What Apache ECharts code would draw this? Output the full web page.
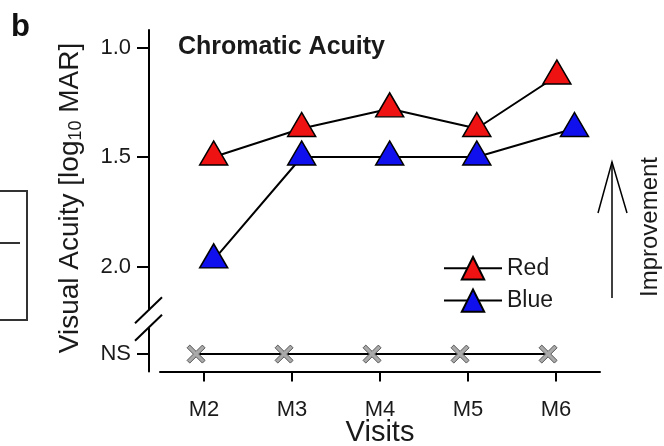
<!DOCTYPE html>
<html><head><meta charset="utf-8">
<script src="https://cdn.jsdelivr.net/npm/echarts@6/dist/echarts.min.js"></script>
<style>html,body{margin:0;padding:0;background:#fff}#c{width:664px;height:446px}</style>
</head><body><div id="c"></div>
<script>
// ---- data ----
const visits = ['M2', 'M3', 'M4', 'M5', 'M6'];
const redAcuity = [1.50, 1.37, 1.28, 1.37, 1.13];
const blueAcuity = [1.97, 1.50, 1.50, 1.50, 1.37];
const notSeen = ['NS', 'NS', 'NS', 'NS', 'NS'];
const yTicks = ['1.0', '1.5', '2.0', 'NS'];
// small horizontal dodge of each series (in visit units)
const redDodge = [0.11, 0.11, 0.11, 0.10, 0.01];
const blueDodge = [0.11, 0.11, 0.11, 0.10, 0.21];
const nsDodge = [-0.09, -0.09, -0.09, -0.09, -0.09];

const NS_VALUE = 2.4;
const BREAK = [2.2, 2.28];
const yTickValues = yTicks.map(t => t === 'NS' ? NS_VALUE : parseFloat(t));
const FONT = '"Liberation Sans", Arial, sans-serif';
const INK = '#1a1a1a';

const chart = echarts.init(document.getElementById('c'), null, {renderer: 'canvas'});

const triSeries = (name, vals, dodge, color) => ({
  name, type: 'line',
  data: vals.map((v, i) => [i + dodge[i], v]),
  symbol: 'triangle', symbolSize: [28, 24], symbolOffset: [0, -4],
  itemStyle: {color, borderColor: '#000', borderWidth: 1.5},
  lineStyle: {color: '#000', width: 2},
  z: 4
});

const option = {
  animation: false,
  title: {
    text: 'Chromatic Acuity', left: 178, top: 35, padding: 0,
    textStyle: {fontSize: 25, fontWeight: 'bold', color: INK, fontFamily: FONT}
  },
  legend: {
    data: ['Red', 'Blue'], orient: 'vertical', left: 443, top: 256,
    itemWidth: 58, itemHeight: 28, itemGap: 8, padding: 0,
    textStyle: {fontSize: 23, color: INK, fontFamily: FONT}
  },
  grid: {left: 160, right: 64, top: 30, bottom: 74.4, outerBoundsMode: 'none', containLabel: false},
  xAxis: {
    type: 'value', min: -0.5, max: 4.5,
    name: 'Visits', nameLocation: 'middle', nameGap: 46, nameMoveOverlap: false,
    nameTextStyle: {fontSize: 29, color: INK, fontFamily: FONT, verticalAlign: 'top', lineHeight: 30},
    axisLine: {onZero: false, lineStyle: {color: '#000', width: 2}},
    axisTick: {customValues: visits.map((v, i) => i), length: 10, lineStyle: {color: '#000', width: 2}},
    axisLabel: {customValues: visits.map((v, i) => i), formatter: v => visits[Math.round(v)],
      fontSize: 22, color: INK, fontFamily: FONT, margin: 27},
    splitLine: {show: false}
  },
  yAxis: {
    type: 'value', inverse: true, min: 0.92, max: 2.48, offset: 11,
    axisLine: {show: true, onZero: false, lineStyle: {color: '#000', width: 2}},
    axisTick: {show: true, customValues: yTickValues, length: 12, lineStyle: {color: '#000', width: 2}},
    axisLabel: {customValues: yTickValues,
      formatter: v => { const i = yTickValues.findIndex(t => Math.abs(t - v) < 1e-6); return i >= 0 ? yTicks[i] : ''; },
      fontSize: 22, color: INK, fontFamily: FONT, margin: 18},
    splitLine: {show: false}
  },
  series: [
    {
      name: 'NS', type: 'line',
      data: notSeen.map((v, i) => [i + nsDodge[i], v === 'NS' ? NS_VALUE : v]),
      symbol: 'path://M0,3 L3,0 L10,7 L17,0 L20,3 L13,10 L20,17 L17,20 L10,13 L3,20 L0,17 L7,10 Z',
      symbolSize: 18,
      itemStyle: {color: '#aaaaaa', borderColor: '#555', borderWidth: 1},
      lineStyle: {color: '#000', width: 2},
      z: 3
    },
    triSeries('Red', redAcuity, redDodge, '#ee1212'),
    triSeries('Blue', blueAcuity, blueDodge, '#1010ee')
  ]
};
chart.setOption(option);

// decorations: axis break, titles, arrow, panel fragment
const p1 = chart.convertToPixel({gridIndex: 0}, [-0.5, BREAK[0]]);
const p2 = chart.convertToPixel({gridIndex: 0}, [-0.5, BREAK[1]]);
const ax = p1[0] - 11;
chart.setOption({
  graphic: [
    {type: 'rect', z: 100, shape: {x: ax - 3, y: p1[1], width: 6, height: p2[1] - p1[1]}, style: {fill: '#fff'}},
    {type: 'line', z: 101, shape: {x1: ax - 14, y1: p1[1] + 13, x2: ax + 13, y2: p1[1] - 13}, style: {stroke: '#000', lineWidth: 2}},
    {type: 'line', z: 101, shape: {x1: ax - 14, y1: p2[1] + 13, x2: ax + 13, y2: p2[1] - 13}, style: {stroke: '#000', lineWidth: 2}},
    {type: 'text', z: 100, x: 70, y: 198, rotation: Math.PI / 2,
      style: {text: '{a|Visual Acuity [log}{s|10}{a| MAR]}', align: 'center', verticalAlign: 'middle',
        rich: {a: {fontSize: 28, fontFamily: FONT, fill: INK, lineHeight: 30},
               s: {fontSize: 18, fontFamily: FONT, fill: INK, verticalAlign: 'bottom'}}}},
    {type: 'text', z: 100, x: 650, y: 227, rotation: Math.PI / 2,
      style: {text: 'Improvement', align: 'center', verticalAlign: 'middle', fontSize: 24, fontFamily: FONT, fill: INK}},
    {type: 'line', z: 100, shape: {x1: 612, y1: 298, x2: 612, y2: 162}, style: {stroke: '#000', lineWidth: 1.5}},
    {type: 'polyline', z: 100, shape: {points: [[598, 213], [612, 162], [627, 213]]}, style: {stroke: '#000', lineWidth: 1.5, fill: null}},
    {type: 'text', z: 100, x: 11, y: 12,
      style: {text: 'b', fontSize: 31, fontWeight: 'bold', fontFamily: FONT, fill: '#111'}},
    {type: 'polyline', z: 100, shape: {points: [[0, 191], [27, 191], [27, 320], [0, 320]]}, style: {stroke: '#333', lineWidth: 2, fill: null}},
    {type: 'line', z: 100, shape: {x1: 0, y1: 243, x2: 20, y2: 243}, style: {stroke: '#333', lineWidth: 2}}
  ]
});
</script></body></html>
